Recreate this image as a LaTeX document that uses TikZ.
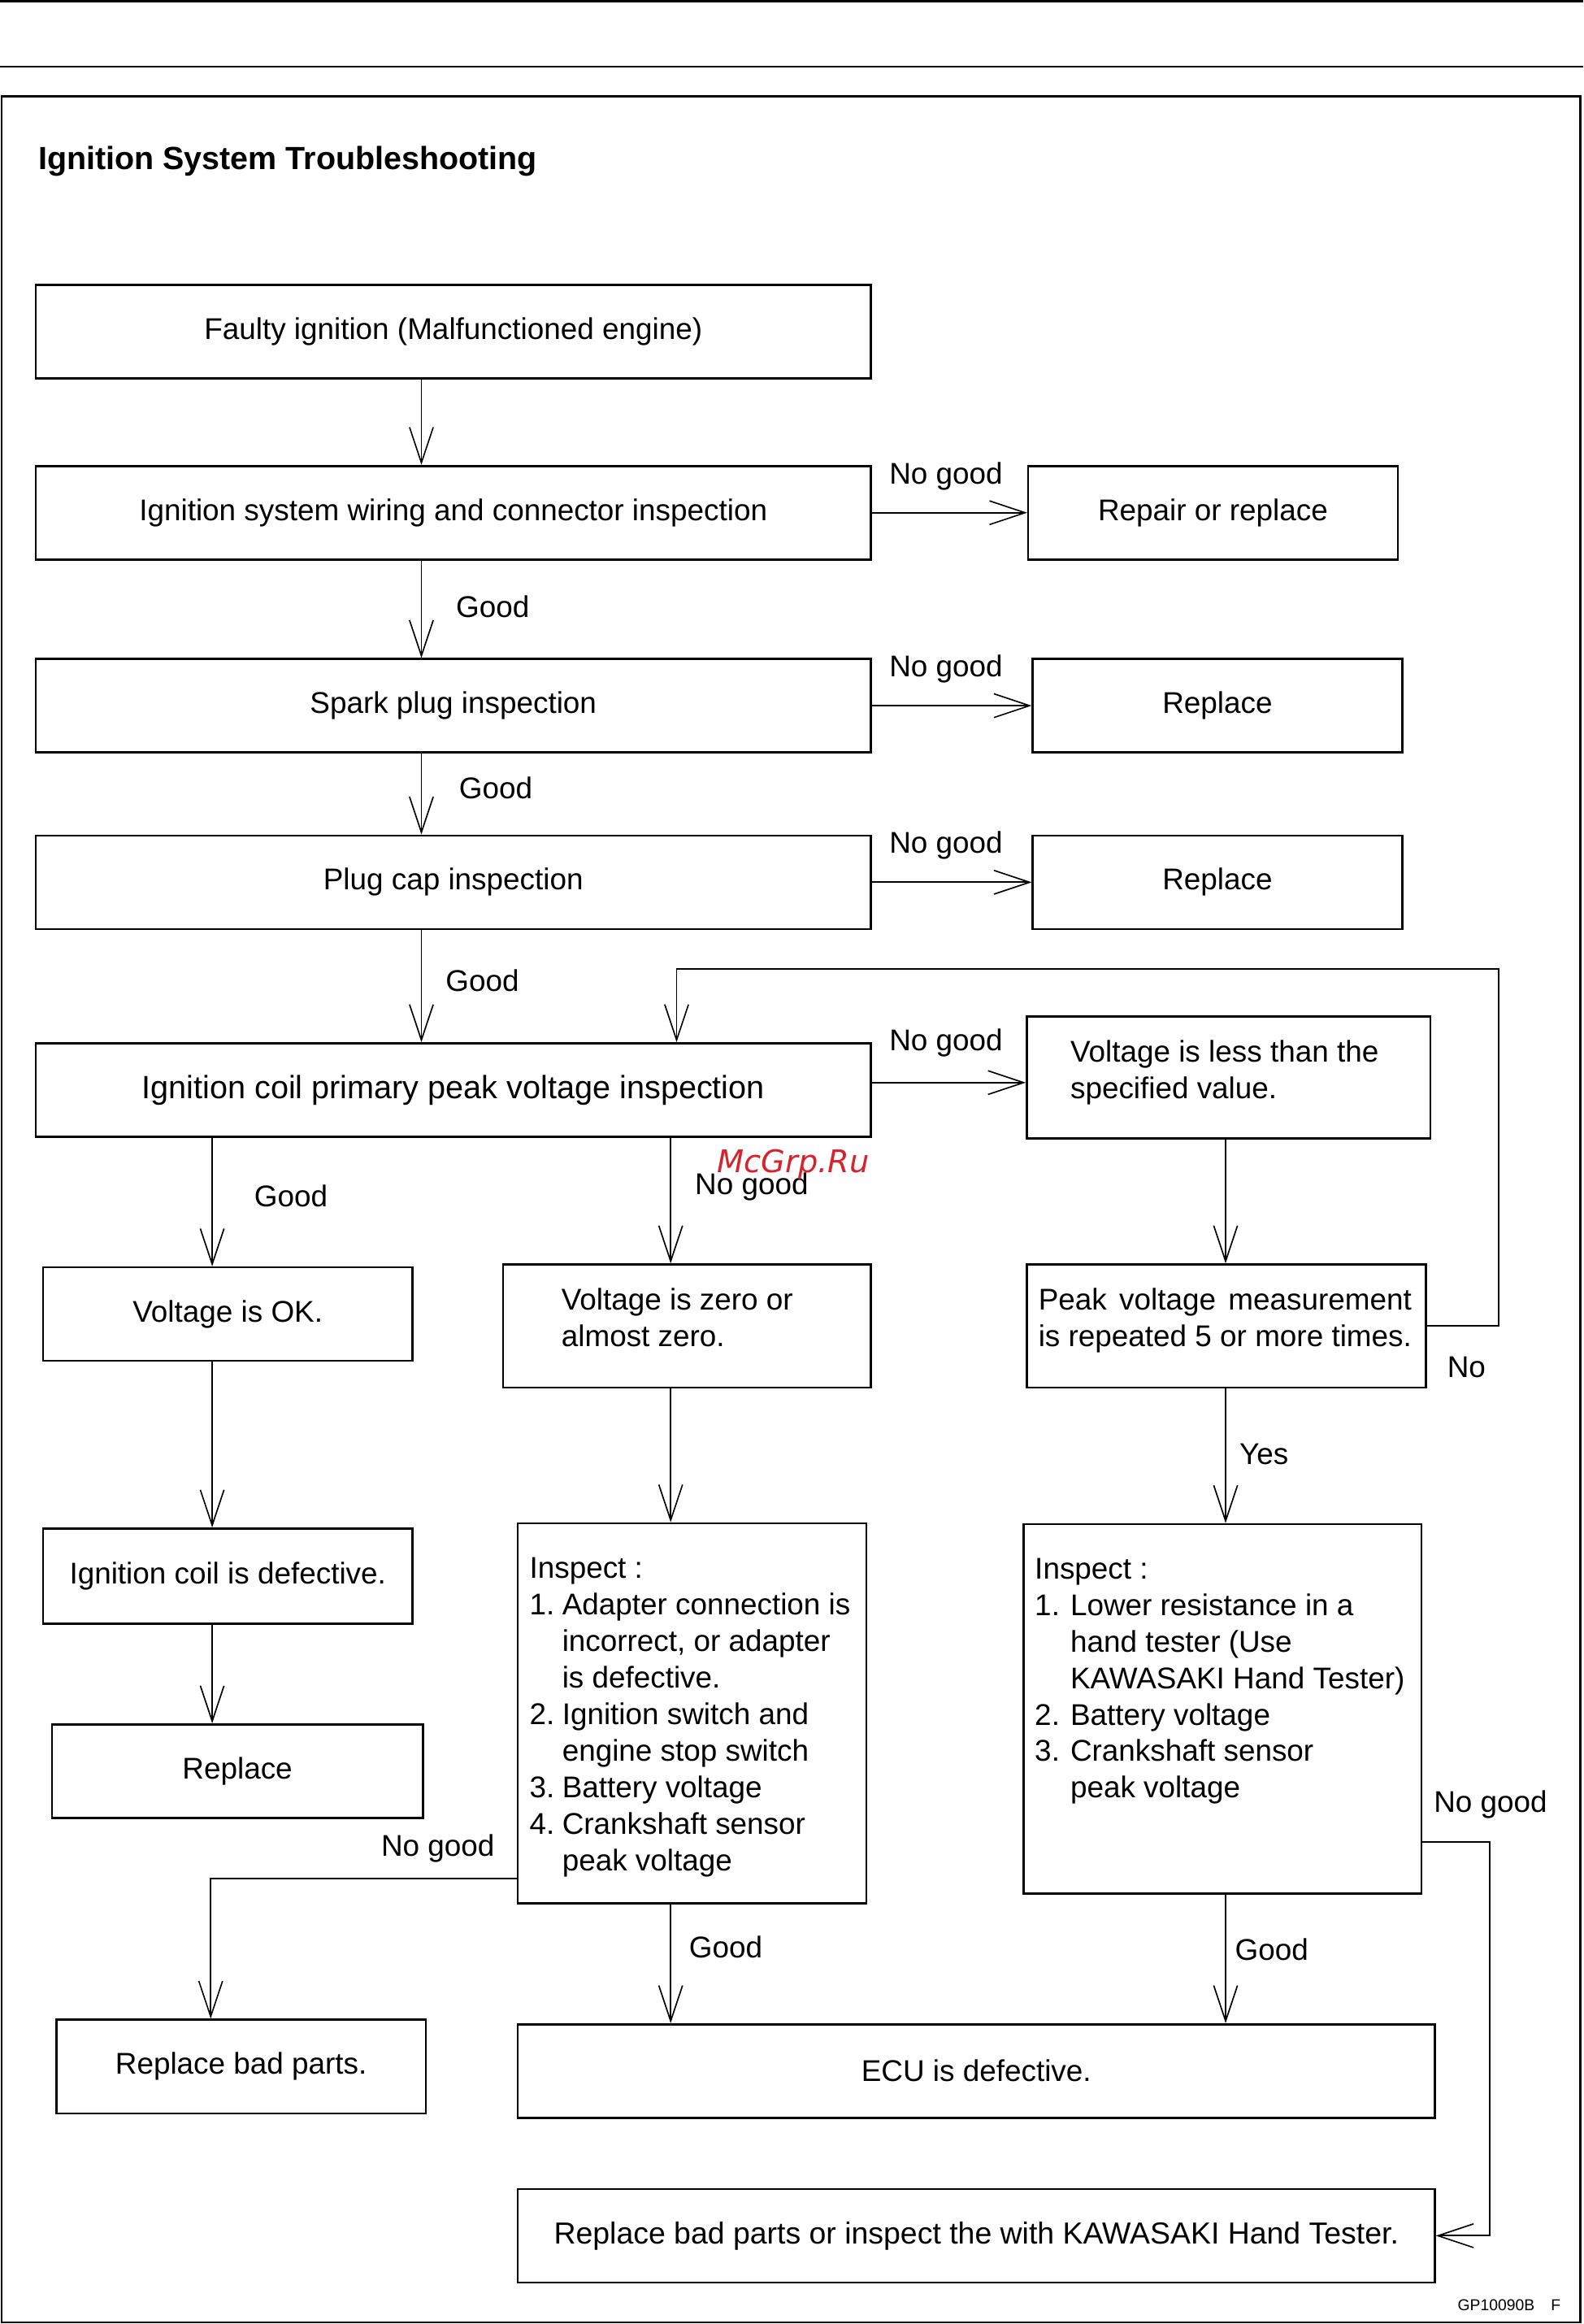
\documentclass[tikz,border=0pt]{standalone}
\usepackage{fontspec}
\setmainfont{Liberation Sans}
\newfontfamily\wmfont{DejaVu Sans}
\usepackage{calc}
\usetikzlibrary{arrows.meta}
\newcommand\dfont{\fontsize{10.1pt}{12.3pt}\selectfont}
\definecolor{wmred}{RGB}{212,36,48}
\begin{document}
\begin{tikzpicture}[x=0.5pt,y=-0.5pt,
  box/.style={draw, line width=0.7pt, inner sep=0pt, font=\dfont},
  wide/.style={box, minimum width=281.5pt, minimum height=31.5pt},
  small/.style={box, minimum width=124.5pt, minimum height=31.5pt},
  txt/.style={anchor=base west, inner sep=0pt, align=left, font=\dfont},
  lbl/.style={anchor=base west, inner sep=0pt, font=\dfont},
  conn/.style={line width=0.5pt, -{Straight Barb[length=12pt,width=8pt,line width=0.45pt]}}]
\useasboundingbox (0,0) rectangle (1067,1566);
% page rules and frame
\draw[line width=0.75pt] (0,1) -- (1067,1);
\draw[line width=0.55pt] (0,45) -- (1067,45);
\draw[line width=0.65pt] (1,65) rectangle (1065,1565);
\node[anchor=base west, inner sep=0pt, font=\bfseries\fontsize{10.8pt}{13pt}\selectfont] (title) at (25.5,114) {Ignition System Troubleshooting};

% main column
\node[wide] (b1) at (305.5,223.5) {Faulty ignition (Malfunctioned engine)};
\node[wide] (b2) at (305.5,345.5) {Ignition system wiring and connector inspection};
\node[small] (r2) at (817.5,345.5) {Repair or replace};
\node[wide] (b3) at (305.5,475.5) {Spark plug inspection};
\node[small] (r3) at (820.5,475.5) {Replace};
\node[wide] (b4) at (305.5,594.5) {Plug cap inspection};
\node[small] (r4) at (820.5,594.5) {Replace};
\node[wide, font=\fontsize{10.85pt}{13pt}\selectfont] (b5) at (305.5,734.5) {Ignition coil primary peak voltage inspection};

% right of b5 (multi-line texts are anchored at the baseline of their last line)
\node[box, minimum width=136pt, minimum height=41pt] (vl) at (828,726) {};
\node[txt] (vlt) at (721,740) {Voltage is less than the\\specified value.};
\node[box, minimum width=134.5pt, minimum height=41.5pt] (peak) at (826.5,893.5) {};
\node[txt] (peakt) at (699.5,907.5) {\makebox[\widthof{is repeated 5 or more times.}][s]{Peak voltage measurement}\\is repeated 5 or more times.};

% left column
\node[small] (ok) at (153.5,885.5) {Voltage is OK.};
\node[box, minimum width=124.5pt, minimum height=32pt] (coil) at (153.5,1062) {Ignition coil is defective.};
\node[box, minimum width=125pt, minimum height=31.5pt] (rep) at (160,1193.5) {Replace};
\node[small] (rbp) at (162.5,1392.5) {Replace bad parts.};

% middle column
\node[box, minimum width=124pt, minimum height=41.5pt] (zero) at (463,893.5) {};
\node[txt] (zerot) at (378,907.5) {Voltage is zero or\\almost zero.};
\node[box, minimum width=117.5pt, minimum height=128pt] (insp1) at (466.5,1154.5) {};
\node[txt] (insp1t) at (356.5,1260.5) {Inspect :\\
\makebox[11pt][l]{1.}Adapter connection is\\
\hspace*{11pt}incorrect, or adapter\\
\hspace*{11pt}is defective.\\
\makebox[11pt][l]{2.}Ignition switch and\\
\hspace*{11pt}engine stop switch\\
\makebox[11pt][l]{3.}Battery voltage\\
\makebox[11pt][l]{4.}Crankshaft sensor\\
\hspace*{11pt}peak voltage};

% right inspect
\node[box, minimum width=134pt, minimum height=124.5pt] (insp2) at (824,1151.5) {};
\node[txt] (insp2t) at (697,1211.5) {Inspect :\\
\makebox[12pt][l]{1.}Lower resistance in a\\
\hspace*{12pt}hand tester (Use\\
\hspace*{12pt}KAWASAKI Hand Tester)\\
\makebox[12pt][l]{2.}Battery voltage\\
\makebox[12pt][l]{3.}Crankshaft sensor\\
\hspace*{12pt}peak voltage};

% bottom
\node[box, minimum width=309pt, minimum height=31.5pt] (ecu) at (658,1395.5) {ECU is defective.};
\node[box, minimum width=309pt, minimum height=31.5pt, font=\fontsize{10.25pt}{12.3pt}\selectfont] (fin) at (658,1506.5) {Replace bad parts or inspect the with KAWASAKI Hand Tester.};

% helper coordinates
\coordinate (cA) at (284,0);
\coordinate (cB) at (143,0);
\coordinate (cC) at (452,0);
\coordinate (cD) at (456,0);
\coordinate (cE) at (826,0);
\coordinate (fbTop) at (1010,653);
\coordinate (ngL) at (142,1266);
\coordinate (ngR) at (1004,1241);

% connectors
\draw[conn] (cA |- b1.south) -- (cA |- b2.north);
\draw[conn] (cA |- b2.south) -- (cA |- b3.north);
\draw[conn] (cA |- b3.south) -- (cA |- b4.north);
\draw[conn] (cA |- b4.south) -- (cA |- b5.north);
\draw[conn] (b2.east) -- (r2.west);
\draw[conn] (b3.east) -- (r3.west);
\draw[conn] (b4.east) -- (r4.west);
\draw[conn] ([yshift=2.5pt]b5.east) -- ([yshift=2.5pt]b5.east -| vl.west);
\draw[conn] (peak.east) -- (peak.east -| fbTop) -- (fbTop) -- (fbTop -| cD) -- (cD |- b5.north);
\draw[conn] (cB |- b5.south) -- (cB |- ok.north);
\draw[conn] (cB |- ok.south) -- (cB |- coil.north);
\draw[conn] (cB |- coil.south) -- (cB |- rep.north);
\draw[conn] (cC |- b5.south) -- (cC |- zero.north);
\draw[conn] (cC |- zero.south) -- (cC |- insp1.north);
\draw[conn] (cC |- insp1.south) -- (cC |- ecu.north);
\draw[conn] (insp1.west |- ngL) -- (ngL) -- (ngL |- rbp.north);
\draw[conn] (cE |- vl.south) -- (cE |- peak.north);
\draw[conn] (cE |- peak.south) -- (cE |- insp2.north);
\draw[conn] (cE |- insp2.south) -- (cE |- ecu.north);
\draw[conn] (insp2.east |- ngR) -- (ngR) -- (ngR |- fin.east) -- (fin.east);

% labels
\node[lbl] (l1) at (599,326) {No good};
\node[lbl] (l2) at (599,456) {No good};
\node[lbl] (l3) at (599,575) {No good};
\node[lbl] (l4) at (599,708) {No good};
\node[lbl] (g1) at (307,416) {Good};
\node[lbl] (g2) at (309,538) {Good};
\node[lbl] (g3) at (300,668) {Good};
\node[lbl] (g4) at (171,813) {Good};
\node[lbl] (l5) at (468,805) {No good};
\node[lbl] (no) at (975,928) {No};
\node[lbl] (yes) at (835,987) {Yes};
\node[lbl] (l6) at (966,1221) {No good};
\node[lbl] (g5) at (832,1321) {Good};
\node[lbl] (g6) at (464,1319) {Good};
\node[lbl] (l7) at (256.5,1251) {No good};
\node[anchor=base west, inner sep=0pt, text=wmred, font=\wmfont\itshape\fontsize{10.5pt}{12pt}\selectfont] (wm) at (483,790) {McGrp.Ru};
\node[anchor=base west, inner sep=0pt, font=\fontsize{5.3pt}{6pt}\selectfont] (code) at (982,1557) {GP10090B\hspace{5.5pt}F};
\end{tikzpicture}
\end{document}
